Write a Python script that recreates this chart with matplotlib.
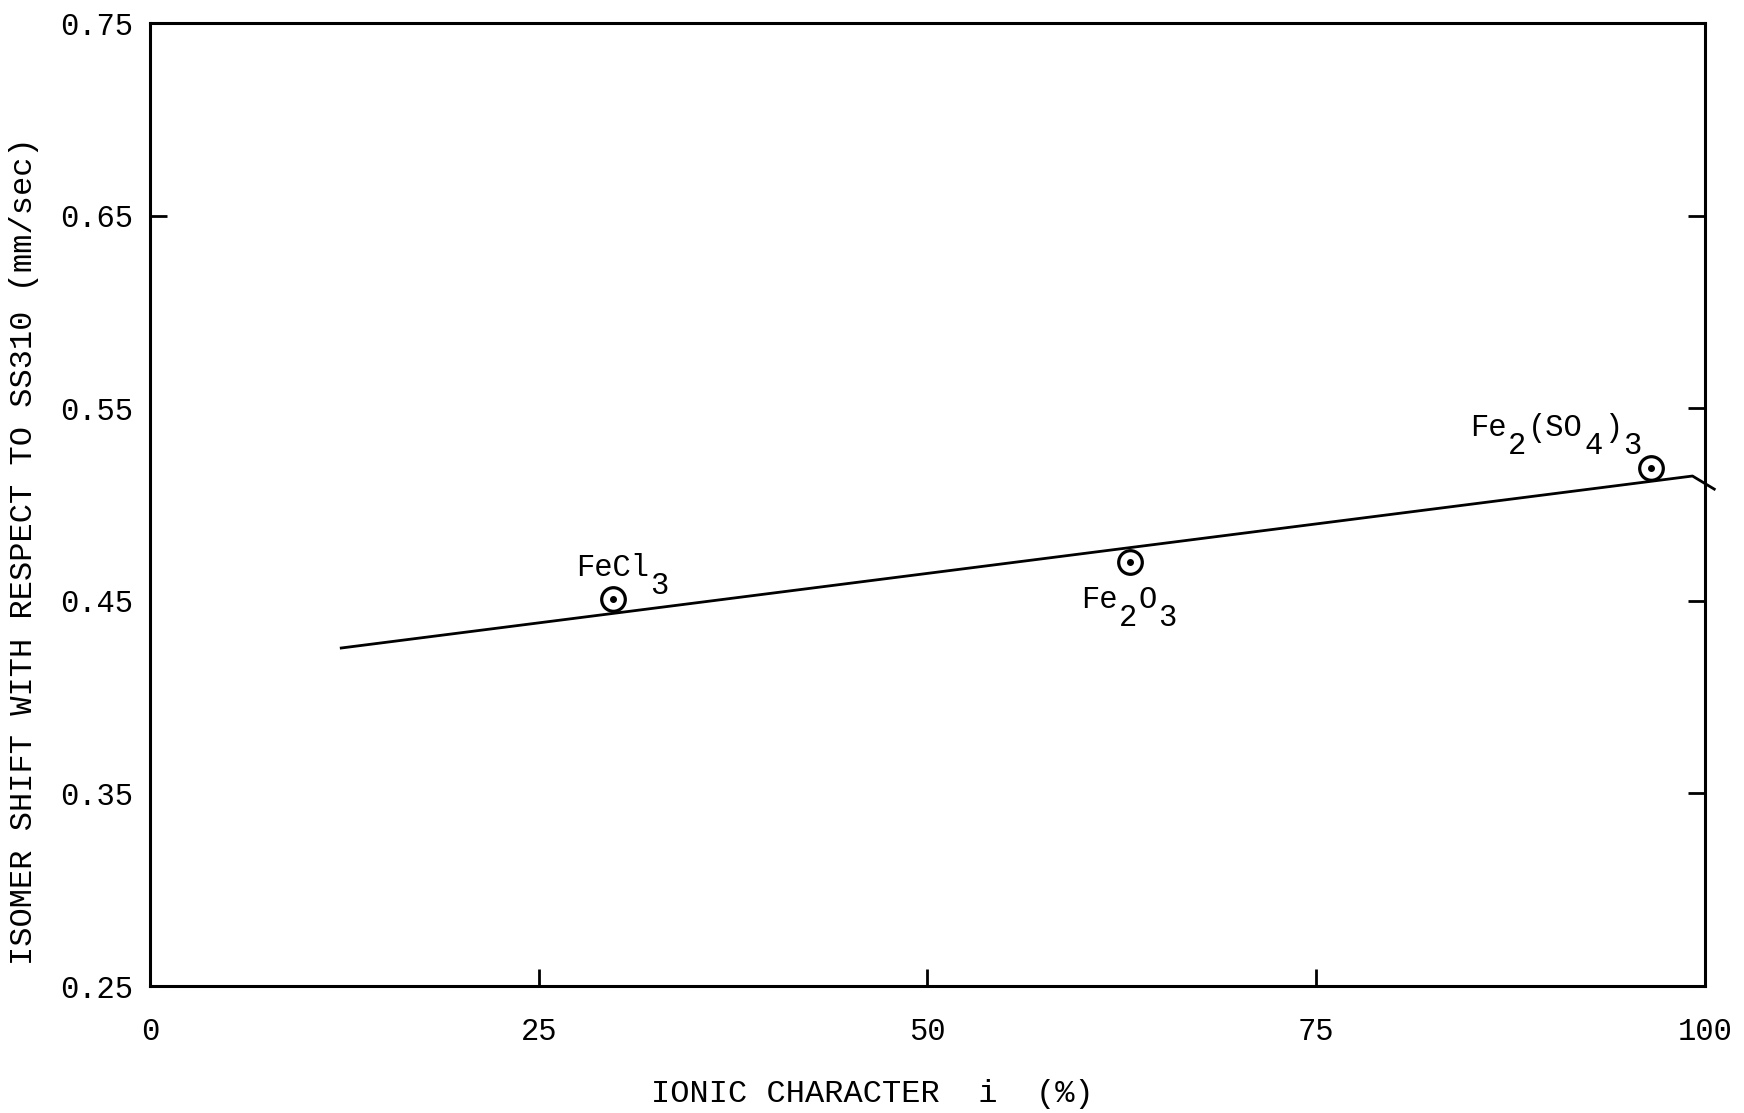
import matplotlib
matplotlib.use("Agg")
import matplotlib.pyplot as plt

# points
compounds = ["FeCl3", "Fe2O3", "Fe2(SO4)3"]
ionic = [29.8, 63.0, 96.5]
shift = [0.451, 0.470, 0.519]

# drawn fit line (with the small hook past the right edge)
fit_x = [12.3, 99.2, 100.6]
fit_y = [0.4255, 0.5148, 0.508]

xticks = [0, 25, 50, 75, 100]
xtick_labels = ["0", "25", "50", "75", "100"]
yticks = [0.25, 0.35, 0.45, 0.55, 0.65, 0.75]
ytick_labels = ["0.25", "0.35", "0.45", "0.55", "0.65", "0.75"]

# label pieces: (text, is_subscript)
label_parts = {
    "FeCl3": [("FeCl", False), ("3", True)],
    "Fe2O3": [("Fe", False), ("2", True), ("O", False), ("3", True)],
    "Fe2(SO4)3": [("Fe", False), ("2", True), ("(SO", False), ("4", True), (")", False), ("3", True)],
}
label_offset = {"FeCl3": (-27, 22), "Fe2O3": (-35, -27), "Fe2(SO4)3": (-130, 29)}

FONT = "Liberation Mono"
FS = 22
AFS = 22

fig = plt.figure(figsize=(17.44, 11.13), dpi=100)
ax = fig.add_axes([0.0860, 0.1141, 0.8916, 0.8652])

ax.plot(fit_x, fit_y, color="black", lw=2.0, clip_on=False)
ax.plot(ionic, shift, "o", ms=17, mfc="white", mec="black", mew=2.3, zorder=3)
ax.plot(ionic, shift, ".", ms=8, color="black", zorder=4)

for name, x, y in zip(compounds, ionic, shift):
    dx, dy = label_offset[name]
    for txt, sub in label_parts[name]:
        ax.annotate(txt, (x, y), xytext=(dx, dy - (13 if sub else 0)),
                    textcoords="offset points", ha="left", va="center",
                    fontsize=AFS, family=FONT)
        dx += 0.6 * AFS * len(txt) + 1

ax.set_xlim(0, 100)
ax.set_ylim(0.25, 0.75)
ax.set_xticks(xticks)
ax.set_xticklabels(xtick_labels, family=FONT, fontsize=FS)
ax.set_yticks(yticks)
ax.set_yticklabels(ytick_labels, family=FONT, fontsize=FS)
ax.yaxis.remove_overlapping_locs = False
ax.set_yticks([0.65], minor=True)
ax.tick_params(axis="x", direction="in", length=12, width=2, pad=22, top=False)
ax.tick_params(axis="y", direction="in", length=12, width=2, pad=12, left=False, right=True)
ax.tick_params(axis="y", which="minor", direction="in", length=12, width=2, left=True, right=False)
for s in ax.spines.values():
    s.set_linewidth(2.2)

fig.text(0.0135, 0.505, "ISOMER SHIFT WITH RESPECT TO SS310 (mm/sec)", family=FONT, fontsize=23,
         rotation=90, ha="center", va="center")
fig.text(0.50, 0.004, "IONIC CHARACTER  i  (%)", family=FONT, fontsize=23, ha="center", va="bottom")

fig.savefig("out.png", dpi=100, facecolor="white")
